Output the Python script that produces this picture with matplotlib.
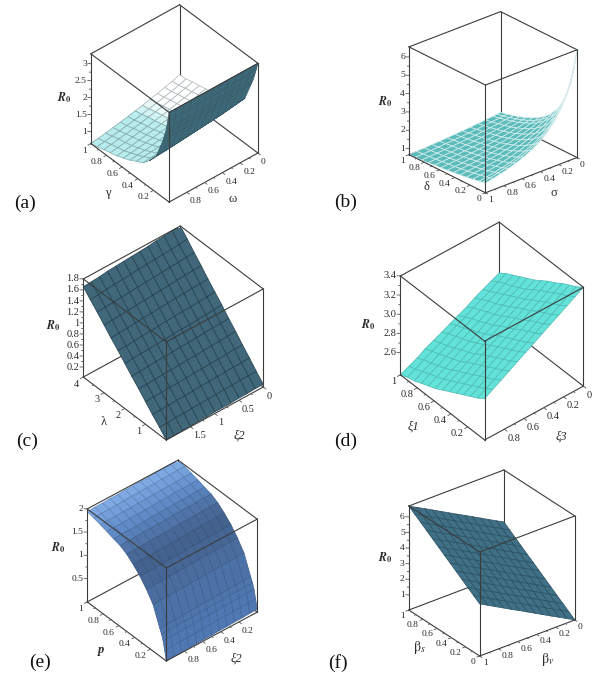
import numpy as np
import matplotlib
matplotlib.use("Agg")
import matplotlib.pyplot as plt
from matplotlib.colors import to_rgb
from mpl_toolkits.mplot3d import proj3d

plt.rcParams['font.family'] = ['Liberation Serif', 'DejaVu Serif']
plt.rcParams['mathtext.fontset'] = 'stix'

# ---------- panel (a) ----------
a_gamma = [0, .02, .04, .06, .083, .167, .25, .333, .417, .5, .583, .667, .75, .833, .917, 1]
a_omega = [1, .917, .833, .75, .667, .583, .5, .417, .333, .25, .167, .083, 0]
a_R = [
 [3.29,2.97,2.68,2.50,2.29,1.71,1.44,1.23,1.13,1.02,.94,.86,.81,.76,.70,.65],
 [3.29,2.98,2.69,2.51,2.31,1.73,1.46,1.25,1.15,1.05,.97,.89,.84,.79,.73,.68],
 [3.29,2.98,2.71,2.53,2.32,1.74,1.47,1.27,1.17,1.07,1.00,.92,.87,.83,.77,.72],
 [3.29,2.99,2.72,2.54,2.34,1.76,1.49,1.29,1.19,1.10,1.03,.96,.91,.86,.80,.76],
 [3.29,3.00,2.73,2.55,2.36,1.78,1.51,1.31,1.22,1.13,1.06,1.00,.95,.90,.84,.80],
 [3.29,3.01,2.75,2.57,2.38,1.80,1.53,1.34,1.24,1.16,1.10,1.03,.98,.94,.88,.84],
 [3.29,3.02,2.77,2.59,2.40,1.82,1.55,1.36,1.27,1.19,1.14,1.08,1.03,.99,.93,.89],
 [3.29,3.02,2.78,2.60,2.42,1.84,1.57,1.39,1.30,1.23,1.18,1.12,1.07,1.03,.97,.93],
 [3.29,3.03,2.80,2.62,2.44,1.86,1.59,1.42,1.33,1.26,1.22,1.17,1.12,1.08,1.02,.99],
 [3.29,3.04,2.82,2.64,2.46,1.88,1.61,1.44,1.36,1.30,1.26,1.22,1.17,1.13,1.07,1.04],
 [3.29,3.05,2.84,2.66,2.49,1.91,1.64,1.48,1.39,1.34,1.31,1.27,1.22,1.18,1.12,1.10],
 [3.29,3.07,2.86,2.68,2.52,1.94,1.67,1.51,1.43,1.39,1.36,1.33,1.28,1.24,1.18,1.16],
 [3.29,3.08,2.89,2.71,2.55,1.97,1.70,1.55,1.47,1.44,1.42,1.39,1.34,1.31,1.25,1.23]]
a_xticks = [.2, .4, .6, .8, 1]
a_xlabels = ['0.2', '0.4', '0.6', '0.8', '1']
a_yticks = [0, .2, .4, .6, .8]
a_ylabels = ['0', '0.2', '0.4', '0.6', '0.8']
a_zticks = [1, 1.5, 2, 2.5, 3]
a_zlabels = ['1', '1.5', '2', '2.5', '3']

# ---------- panel (b) ----------
b_delta = [0, .04, .083, .167, .25, .333, .417, .5, .583, .667, .75, .833, .917, 1]
b_sigma = [0, .04, .083, .167, .25, .333, .417, .5, .583, .667, .75, .833, .917, 1]
b_R = [
 [6.54,5.41,4.57,3.48,2.83,2.39,2.05,1.81,1.62,1.46,1.33,1.22,1.13,1.05],
 [5.56,4.72,4.07,3.19,2.64,2.25,1.96,1.73,1.56,1.41,1.29,1.19,1.10,1.03],
 [4.78,4.16,3.65,2.93,2.46,2.12,1.86,1.66,1.50,1.36,1.25,1.16,1.07,1.00],
 [3.75,3.36,3.02,2.52,2.17,1.90,1.69,1.53,1.39,1.27,1.18,1.10,1.02,.96],
 [3.10,2.82,2.59,2.22,1.95,1.73,1.56,1.42,1.30,1.20,1.12,1.04,.98,.92],
 [2.64,2.44,2.27,1.98,1.76,1.59,1.44,1.32,1.22,1.14,1.06,1.00,.94,.88],
 [2.29,2.14,2.01,1.78,1.61,1.46,1.34,1.24,1.15,1.07,1.01,.95,.90,.85],
 [2.03,1.92,1.81,1.63,1.48,1.36,1.25,1.17,1.09,1.02,.96,.91,.86,.82],
 [1.82,1.73,1.64,1.49,1.37,1.27,1.18,1.10,1.03,.97,.92,.87,.83,.79],
 [1.65,1.57,1.50,1.38,1.28,1.19,1.11,1.04,.98,.93,.88,.84,.80,.76],
 [1.51,1.45,1.39,1.28,1.20,1.12,1.05,.99,.94,.89,.85,.81,.77,.74],
 [1.39,1.34,1.29,1.20,1.12,1.06,1.00,.94,.90,.85,.81,.78,.74,.71],
 [1.29,1.24,1.20,1.12,1.06,1.00,.95,.90,.86,.82,.78,.75,.72,.69],
 [1.20,1.16,1.13,1.06,1.00,.95,.90,.86,.82,.79,.75,.72,.70,.67]]
b_xticks = [0, .2, .4, .6, .8, 1]
b_xlabels = ['0', '0.2', '0.4', '0.6', '0.8', '1']
b_yticks = [0, .2, .4, .6, .8, 1]
b_ylabels = ['0', '0.2', '0.4', '0.6', '0.8', '1']
b_zticks = [1, 2, 3, 4, 5, 6]
b_zlabels = ['1', '2', '3', '4', '5', '6']

# ---------- panel (c) ----------
c_lambda = [0, .333, .667, 1, 1.333, 1.667, 2, 2.333, 2.667, 3, 3.333, 3.667, 4]
c_xi2 = [2, 1.833, 1.667, 1.5, 1.333, 1.167, 1, .833, .667, .5, .333, .167, 0]
c_R = [
 [.02,.16,.29,.43,.57,.70,.84,.98,1.11,1.25,1.39,1.52,1.66],
 [.02,.16,.30,.44,.57,.71,.85,.98,1.12,1.26,1.40,1.53,1.67],
 [.03,.17,.30,.44,.58,.72,.86,.99,1.13,1.27,1.41,1.55,1.68],
 [.03,.17,.31,.45,.59,.73,.86,1.00,1.14,1.28,1.42,1.56,1.70],
 [.04,.18,.31,.45,.59,.73,.87,1.01,1.15,1.29,1.43,1.57,1.71],
 [.04,.18,.32,.46,.60,.74,.88,1.02,1.16,1.30,1.44,1.58,1.72],
 [.05,.19,.33,.47,.61,.75,.89,1.03,1.17,1.31,1.45,1.59,1.73],
 [.05,.19,.33,.47,.61,.75,.90,1.04,1.18,1.32,1.46,1.60,1.74],
 [.05,.20,.34,.48,.62,.76,.90,1.05,1.19,1.33,1.47,1.61,1.75],
 [.06,.20,.34,.48,.63,.77,.91,1.05,1.20,1.34,1.48,1.62,1.77],
 [.06,.21,.35,.49,.63,.78,.92,1.06,1.21,1.35,1.49,1.63,1.78],
 [.07,.21,.35,.50,.64,.78,.93,1.07,1.21,1.36,1.50,1.64,1.79],
 [.07,.21,.36,.50,.65,.79,.94,1.08,1.22,1.37,1.51,1.66,1.80]]
c_xticks = [1, 2, 3, 4]
c_xlabels = ['1', '2', '3', '4']
c_yticks = [0, .5, 1, 1.5]
c_ylabels = ['0', '0.5', '1', '1.5']
c_zticks = [.2, .4, .6, .8, 1, 1.2, 1.4, 1.6, 1.8]
c_zlabels = ['0.2', '0.4', '0.6', '0.8', '1', '1.2', '1.4', '1.6', '1.8']

# ---------- panel (d) ----------
d_xi1 = [0, .083, .167, .25, .333, .417, .5, .583, .667, .75, .833, .917, 1]
d_xi3 = [1, .917, .833, .75, .667, .583, .5, .417, .333, .25, .167, .083, 0]
d_R = [
 [2.80,2.75,2.71,2.67,2.63,2.59,2.55,2.51,2.48,2.45,2.42,2.40,2.37],
 [2.85,2.80,2.76,2.72,2.68,2.64,2.60,2.56,2.53,2.50,2.47,2.44,2.41],
 [2.90,2.85,2.81,2.77,2.73,2.69,2.65,2.61,2.57,2.54,2.51,2.49,2.45],
 [2.95,2.90,2.86,2.82,2.78,2.74,2.70,2.65,2.62,2.59,2.56,2.53,2.50],
 [3.00,2.95,2.91,2.87,2.83,2.79,2.74,2.70,2.67,2.63,2.60,2.57,2.54],
 [3.05,3.00,2.96,2.92,2.88,2.84,2.79,2.75,2.71,2.68,2.65,2.62,2.58],
 [3.10,3.05,3.01,2.97,2.93,2.89,2.84,2.80,2.76,2.73,2.69,2.66,2.62],
 [3.15,3.10,3.06,3.02,2.97,2.93,2.89,2.84,2.81,2.77,2.74,2.70,2.66],
 [3.20,3.15,3.11,3.07,3.02,2.98,2.94,2.89,2.85,2.82,2.78,2.75,2.70],
 [3.25,3.20,3.16,3.12,3.07,3.03,2.99,2.94,2.90,2.86,2.83,2.79,2.75],
 [3.30,3.25,3.21,3.17,3.12,3.08,3.03,2.99,2.95,2.91,2.87,2.83,2.79],
 [3.35,3.30,3.26,3.22,3.17,3.13,3.08,3.03,2.99,2.95,2.92,2.88,2.83],
 [3.40,3.35,3.31,3.27,3.22,3.18,3.13,3.08,3.04,3.00,2.96,2.92,2.87]]
d_xticks = [.2, .4, .6, .8, 1]
d_xlabels = ['0.2', '0.4', '0.6', '0.8', '1']
d_yticks = [0, .2, .4, .6, .8]
d_ylabels = ['0', '0.2', '0.4', '0.6', '0.8']
d_zticks = [2.6, 2.8, 3.0, 3.2, 3.4]
d_zlabels = ['2.6', '2.8', '3.0', '3.2', '3.4']

# ---------- panel (e) ----------
e_p = [0, .02, .04, .06, .083, .167, .25, .333, .417, .5, .583, .667, .75, .833, .917, 1]
e_xi2 = [1, .917, .833, .75, .667, .583, .5, .417, .333, .25, .167, .083, 0]
e_R = [
 [0,.20,.38,.50,.60,1.00,1.22,1.40,1.54,1.66,1.74,1.78,1.83,1.87,1.91,1.94],
 [.01,.21,.39,.51,.61,1.01,1.23,1.41,1.55,1.67,1.75,1.79,1.84,1.88,1.92,1.95],
 [.01,.21,.39,.51,.61,1.01,1.23,1.41,1.55,1.67,1.75,1.79,1.84,1.88,1.92,1.95],
 [.02,.22,.40,.52,.62,1.02,1.24,1.42,1.56,1.68,1.76,1.80,1.85,1.89,1.93,1.96],
 [.02,.22,.40,.52,.62,1.02,1.24,1.42,1.56,1.68,1.76,1.80,1.85,1.89,1.93,1.96],
 [.03,.23,.41,.53,.63,1.03,1.25,1.43,1.57,1.69,1.77,1.81,1.86,1.90,1.94,1.97],
 [.03,.23,.41,.53,.63,1.03,1.25,1.43,1.57,1.69,1.77,1.81,1.86,1.90,1.94,1.97],
 [.04,.24,.42,.54,.64,1.04,1.26,1.44,1.58,1.70,1.78,1.82,1.87,1.91,1.95,1.98],
 [.04,.24,.42,.54,.64,1.04,1.26,1.44,1.58,1.70,1.78,1.82,1.87,1.91,1.95,1.98],
 [.05,.25,.43,.55,.65,1.05,1.27,1.45,1.59,1.71,1.79,1.83,1.88,1.92,1.96,1.99],
 [.05,.25,.43,.55,.65,1.05,1.27,1.45,1.59,1.71,1.79,1.83,1.88,1.92,1.96,1.99],
 [.06,.26,.44,.56,.66,1.06,1.28,1.46,1.60,1.72,1.80,1.84,1.89,1.93,1.97,2.00],
 [.06,.26,.44,.56,.66,1.06,1.28,1.46,1.60,1.72,1.80,1.84,1.89,1.93,1.97,2.00]]
e_xticks = [.2, .4, .6, .8, 1]
e_xlabels = ['0.2', '0.4', '0.6', '0.8', '1']
e_yticks = [.2, .4, .6, .8]
e_ylabels = ['0.2', '0.4', '0.6', '0.8']
e_zticks = [.5, 1, 1.5, 2]
e_zlabels = ['0.5', '1', '1.5', '2']

# ---------- panel (f) ----------
f_betas = [0, .083, .167, .25, .333, .417, .5, .583, .667, .75, .833, .917, 1]
f_betav = [1, .917, .833, .75, .667, .583, .5, .417, .333, .25, .167, .083, 0]
f_R = [
 [3.37,3.64,3.92,4.20,4.48,4.76,5.03,5.31,5.59,5.87,6.15,6.42,6.70],
 [3.09,3.37,3.64,3.92,4.20,4.48,4.76,5.03,5.31,5.59,5.87,6.15,6.42],
 [2.81,3.09,3.37,3.64,3.92,4.20,4.48,4.76,5.03,5.31,5.59,5.87,6.15],
 [2.53,2.81,3.09,3.37,3.64,3.92,4.20,4.48,4.76,5.03,5.31,5.59,5.87],
 [2.25,2.53,2.81,3.09,3.37,3.64,3.92,4.20,4.48,4.76,5.03,5.31,5.59],
 [1.98,2.25,2.53,2.81,3.09,3.37,3.64,3.92,4.20,4.48,4.76,5.03,5.31],
 [1.70,1.98,2.25,2.53,2.81,3.09,3.37,3.64,3.92,4.20,4.48,4.76,5.03],
 [1.42,1.70,1.98,2.25,2.53,2.81,3.09,3.37,3.64,3.92,4.20,4.48,4.76],
 [1.14,1.42,1.70,1.98,2.25,2.53,2.81,3.09,3.37,3.64,3.92,4.20,4.48],
 [.86,1.14,1.42,1.70,1.98,2.25,2.53,2.81,3.09,3.37,3.64,3.92,4.20],
 [.59,.86,1.14,1.42,1.70,1.98,2.25,2.53,2.81,3.09,3.37,3.64,3.92],
 [.31,.59,.86,1.14,1.42,1.70,1.98,2.25,2.53,2.81,3.09,3.37,3.64],
 [.03,.31,.59,.86,1.14,1.42,1.70,1.98,2.25,2.53,2.81,3.09,3.37]]
f_xticks = [0, .2, .4, .6, .8, 1]
f_xlabels = ['0', '0.2', '0.4', '0.6', '0.8', '1']
f_yticks = [0, .2, .4, .6, .8, 1]
f_ylabels = ['0', '0.2', '0.4', '0.6', '0.8', '1']
f_zticks = [1, 2, 3, 4, 5, 6]
f_zlabels = ['1', '2', '3', '4', '5', '6']

W, H = 600, 677
fig = plt.figure(figsize=(W / 100, H / 100), dpi=100)
TXT = '#2a2a2a'
LINE = '#3c3c3c'


def mix(c1, c2, t):
    c1, c2 = np.array(to_rgb(c1)), np.array(to_rgb(c2))
    return c1 * (1 - t) + c2 * t


def facet_colors(X, Y, Z, elev, azim, xr, yr, zr, style):
    ny, nx = Z.shape
    out = np.zeros((ny - 1, nx - 1, 4))
    e, a = np.radians(elev), np.radians(azim)
    view = np.array([np.cos(e) * np.cos(a), np.cos(e) * np.sin(a), np.sin(e)])
    sx, sy, sz = xr[1] - xr[0], yr[1] - yr[0], zr[1] - zr[0]
    for i in range(ny - 1):
        for j in range(nx - 1):
            dx = (X[i, j + 1] - X[i, j]) / sx
            dy = (Y[i + 1, j] - Y[i, j]) / sy
            dzx = ((Z[i, j + 1] + Z[i + 1, j + 1] - Z[i, j] - Z[i + 1, j]) / 2) / sz / dx
            dzy = ((Z[i + 1, j] + Z[i + 1, j + 1] - Z[i, j] - Z[i, j + 1]) / 2) / sz / dy
            n = np.array([-dzx, -dzy, 1.0])
            top = n @ view > 0
            u = ((X[i, j] + X[i, j + 1]) / 2 - xr[0]) / sx
            v = ((Y[i, j] + Y[i + 1, j]) / 2 - yr[0]) / sy
            if 'ramp' in style:
                pos, cols = style['ramp']
                c = np.array([np.interp(u, pos, [to_rgb(k)[m] for k in cols]) for m in range(3)])
            elif top:
                lo, hi = style.get('top_range', (0, 1))
                t = np.clip((v - lo) / (hi - lo), 0, 1)
                c = mix(style['top'][0], style['top'][1], t)
            else:
                c = np.array(to_rgb(style['under']))
            out[i, j, :3] = c
            out[i, j, 3] = 1
    return out


def panel(xs, ys, R, xr, yr, zr, elev, azim, aspect, corners, style,
          xticks, xlabels, yticks, ylabels, zticks, zlabels, fs,
          xoff=(-4, -7), yoff=(3, -9), zoff=(-4, 0)):
    ax = fig.add_axes([.25, .25, 400 / W, 400 / H], projection='3d', computed_zorder=False)
    ax.set_proj_type('ortho')
    ax.view_init(elev=elev, azim=azim)
    ax.set_box_aspect(aspect)
    ax.set_xlim(*xr, view_margin=0)
    ax.set_ylim(*yr, view_margin=0)
    ax.set_zlim(*zr, view_margin=0)
    ax.set_axis_off()
    ax.patch.set_visible(False)
    # fit the projected box on the page
    fb, lb, rb, ft = corners
    pts3 = [(xr[0], yr[1], zr[0]), (xr[1], yr[1], zr[0]), (xr[0], yr[0], zr[0]), (xr[0], yr[1], zr[1])]
    target = np.array([(p[0], H - p[1]) for p in (fb, lb, rb, ft)], float)
    ax.apply_aspect()
    M = ax.get_proj()
    P = []
    for p in pts3:
        u, v, _ = proj3d.proj_transform(p[0], p[1], p[2], M)
        P.append(ax.transData.transform((u, v)))
    P = np.array(P)
    C0 = np.array([.25 * W + 200, .25 * H + 200])
    k = ((target - target.mean(0)) * (P - P.mean(0))).sum() / ((P - P.mean(0)) ** 2).sum()
    C = target.mean(0) - k * (P.mean(0) - C0)
    S = 400 * k
    ax.set_position([(C[0] - S / 2) / W, (C[1] - S / 2) / H, S / W, S / H])
    ax.apply_aspect()

    X, Y = np.meshgrid(xs, ys)
    Z = np.array(R, float)
    x0, x1 = xr
    y0, y1 = yr
    z0, z1 = zr
    back = [((x1, y0, z0), (x1, y1, z0)), ((x1, y0, z0), (x0, y0, z0)), ((x1, y0, z0), (x1, y0, z1))]
    front = [((x0, y1, z0), (x1, y1, z0)), ((x0, y1, z0), (x0, y0, z0)), ((x0, y1, z0), (x0, y1, z1)),
             ((x1, y1, z0), (x1, y1, z1)), ((x0, y0, z0), (x0, y0, z1)),
             ((x0, y1, z1), (x1, y1, z1)), ((x0, y1, z1), (x0, y0, z1)),
             ((x1, y0, z1), (x1, y1, z1)), ((x1, y0, z1), (x0, y0, z1))]
    for a, b in back:
        ax.plot(*zip(a, b), color=LINE, lw=.8, zorder=1, clip_on=False)
    fc = facet_colors(X, Y, Z, elev, azim, xr, yr, zr, style)
    surf = ax.plot_surface(X, Y, Z, rstride=1, cstride=1, facecolors=fc, shade=False,
                           linewidth=style.get('lw', .5), zorder=2, antialiased=True)
    ek, ec = style.get('edge', (.25, 'black'))
    edge = fc.reshape(-1, 4).copy()
    edge[:, :3] = edge[:, :3] * (1 - ek) + np.array(to_rgb(ec)) * ek
    surf.set_edgecolor(edge)
    surf.set_facecolor(fc.reshape(-1, 4))
    for a, b in front:
        ax.plot(*zip(a, b), color=LINE, lw=.8, zorder=3, clip_on=False)

    M = ax.get_proj()

    def mids(t):
        return [(p + q) / 2 for p, q in zip(t[:-1], t[1:])]

    def lab(x, y, z, s, off, ha):
        u, v, _ = proj3d.proj_transform(x, y, z, M)
        ax.annotate(s, xy=(u, v), xytext=off, textcoords='offset pixels', ha=ha, va='center',
                    fontsize=fs, color=TXT, annotation_clip=False, zorder=5)

    tk = dict(color='#555555', lw=.6, zorder=3, clip_on=False)
    dx, dy = (x1 - x0) * .03, (y1 - y0) * .03
    for v, s in zip(xticks, xlabels):
        ax.plot([v, v], [y1, y1 + dy], [z0, z0], **tk)
        lab(v, y1, z0, s, xoff, 'right')
    for v in mids(xticks):
        ax.plot([v, v], [y1, y1 + dy / 2], [z0, z0], **tk)
    for v, s in zip(yticks, ylabels):
        ax.plot([x0, x0 - dx], [v, v], [z0, z0], **tk)
        lab(x0, v, z0, s, yoff, 'left')
    for v in mids(yticks):
        ax.plot([x0, x0 - dx / 2], [v, v], [z0, z0], **tk)
    for v, s in zip(zticks, zlabels):
        ax.plot([x1, x1 + dx * .6], [y1, y1 + dy * .6], [v, v], **tk)
        lab(x1, y1, v, s, zoff, 'right')
    for v in mids(zticks):
        ax.plot([x1, x1 + dx * .3], [y1, y1 + dy * .3], [v, v], **tk)
    return ax


panel(a_gamma, a_omega, a_R, (0, 1), (0, 1), (.65, 3.29), 40, 139.3, (120, 117, 117),
      [(169, 202), (91, 144), (258, 153), (169, 112)],
      dict(top=('#ffffff', '#b8ecec'), top_range=(.3, .55), under='#3d6878', edge=(.4, '#30444e')),
      a_xticks, a_xlabels, a_yticks, a_ylabels, a_zticks, a_zlabels, 6.8)

panel(b_delta, b_sigma, b_R, (0, 1), (0, 1), (.67, 6.55), 26, 138.7, (115, 121, 119),
      [(486, 193), (410, 155), (577, 158), (484, 84)],
      dict(top=('#5cbcbc', '#5cbcbc'), under='#5fa8ae', edge=(.75, '#ffffff')),
      b_xticks, b_xlabels, b_yticks, b_ylabels, b_zticks, b_zlabels, 6.8, xoff=(-4, -6), yoff=(3, -7))

panel(c_lambda, c_xi2, c_R, (0, 4), (0, 2), (.02, 1.8), 40.1, 139.7, (128, 127, 128),
      [(166, 440), (83, 377), (263, 387), (167, 342)],
      dict(top=('#40687a', '#40687a'), under='#40687a', edge=(.6, '#10242c')),
      c_xticks, c_xlabels, c_yticks, c_ylabels, c_zticks, c_zlabels, 7.4)

panel(d_xi1, d_xi3, d_R, (0, 1), (0, 1), (2.37, 3.4), 40.5, 140, (131, 129, 130),
      [(484, 440), (400, 375), (583, 386), (486, 341)],
      dict(top=('#62e2d8', '#62e2d8'), under='#62e2d8', edge=(.3, '#206060')),
      d_xticks, d_xlabels, d_yticks, d_ylabels, d_zticks, d_zlabels, 7.4)

panel(e_p, e_xi2, e_R, (0, 1), (0, 1), (0, 2), 39.3, 139.7, (122, 119, 120),
      [(166, 661), (87, 602), (257, 612), (167, 568)],
      dict(ramp=([0, .2, .4, .7, 1], ['#5079b4', '#4a6d9f', '#42608c', '#5f8ac6', '#84aee8']),
           edge=(.22, '#10243c')),
      e_xticks, e_xlabels, e_yticks, e_ylabels, e_zticks, e_zlabels, 6.8)

panel(f_betas, f_betav, f_R, (0, 1), (0, 1), (.03, 6.7), 29.7, 142.6, (117, 120, 120),
      [(480, 656), (409, 610), (575, 620), (479, 552)],
      dict(top=('#3f7086', '#3f7086'), under='#3f7086', edge=(.5, '#15303c')),
      f_xticks, f_xlabels, f_yticks, f_ylabels, f_zticks, f_zlabels, 6.8, xoff=(-4, -6), yoff=(3, -7))


def label(x, y, s, size=8, **kw):
    fig.text(x / W, 1 - y / H, s, ha='center', va='center', fontsize=size, color=TXT, **kw)


R0 = r'$\mathbfit{R}_{\mathbf{0}}$'
for x, y in [(64, 98), (385, 102), (53, 326), (368, 325), (58, 548), (385, 558)]:
    label(x, y, R0, 8.5)
label(108, 193, 'γ', 9)
label(233, 199, 'ω', 9)
label(426, 187, 'δ', 9)
label(554, 193, 'σ', 9)
label(104, 422, 'λ', 9)
label(239, 436, 'ξ2', 9, style='italic')
label(413, 427, 'ξ1', 9, style='italic')
label(561, 437, 'ξ3', 9, style='italic')
label(101, 650, 'p', 9, style='italic', weight='bold')
label(236, 659, 'ξ2', 9, style='italic')
label(419, 648, r'$\mathrm{\beta}_{\mathit{s}}$', 10)
label(548, 660, r'$\mathrm{\beta}_{\mathit{v}}$', 10)

for x, y, s in [(25, 203, '(a)'), (346, 202, '(b)'), (27, 441, '(c)'),
                (346, 441, '(d)'), (40, 662, '(e)'), (338, 663, '(f)')]:
    fig.text(x / W, 1 - y / H, s, ha='center', va='center', fontsize=14, color='#111111')

fig.savefig('out.png', dpi=100)
